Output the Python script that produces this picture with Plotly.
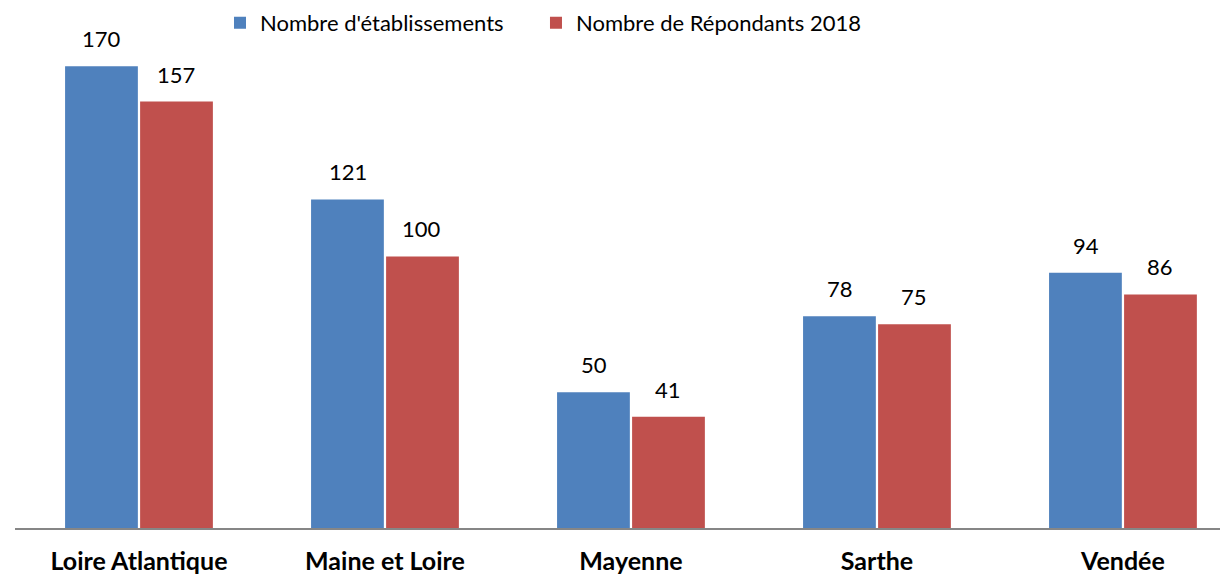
import plotly.graph_objects as go

categories = ["Loire Atlantique", "Maine et Loire", "Mayenne", "Sarthe", "Vendée"]
etablissements = [170, 121, 50, 78, 94]
repondants = [157, 100, 41, 75, 86]
series_names = ["Nombre d'établissements", "Nombre de Répondants 2018"]
colors = ["#4F81BD", "#C0504D"]

FONT = "Lato, Carlito, Calibri, sans-serif"

fig = go.Figure()
legend_ids = ["legend", "legend2"]
for i, (name, vals, col) in enumerate(zip(series_names, [etablissements, repondants], colors)):
    fig.add_trace(go.Bar(
        x=categories, y=vals, name=name,
        marker=dict(color=col, line=dict(width=0)),
        offsetgroup=str(i), legend=legend_ids[i],
    ))

# value labels above bars
for i, vals in enumerate([etablissements, repondants]):
    for c, v in zip(categories, vals):
        fig.add_annotation(
            x=c, y=v, text=str(v), showarrow=False,
            xanchor="center", yanchor="bottom",
            xshift=(-1 if i == 0 else 1) * 37, yshift=12,
            font=dict(family=FONT, size=22, color="#000000"),
        )

leg_common = dict(orientation="h", xanchor="left", y=0.979, yanchor="middle",
                  font=dict(family=FONT, size=22, color="#000000"),
                  bgcolor="rgba(0,0,0,0)", itemclick=False, itemdoubleclick=False)

# page body adds an 8px offset; figure sized to fit the 1228x574 window
fig.update_layout(
    width=1220, height=566,
    margin=dict(l=7, r=0, t=4, b=46, autoexpand=False),
    paper_bgcolor="white", plot_bgcolor="white",
    barmode="group", bargap=0.39, bargroupgap=0.03,
    font=dict(family=FONT, size=22, color="#000000"),
    showlegend=True,
    legend=dict(x=0.169, **leg_common),
    legend2=dict(x=0.4295, **leg_common),
    xaxis=dict(range=[-0.504, 4.427], showgrid=False, showline=True,
               linecolor="#868686", linewidth=2, ticks="",
               tickfont=dict(family=FONT, size=25, color="#000000", weight="bold"),
               ticklabelstandoff=10, fixedrange=True),
    yaxis=dict(range=[0, 190], visible=False, fixedrange=True),
)

fig.write_html("out.html")
